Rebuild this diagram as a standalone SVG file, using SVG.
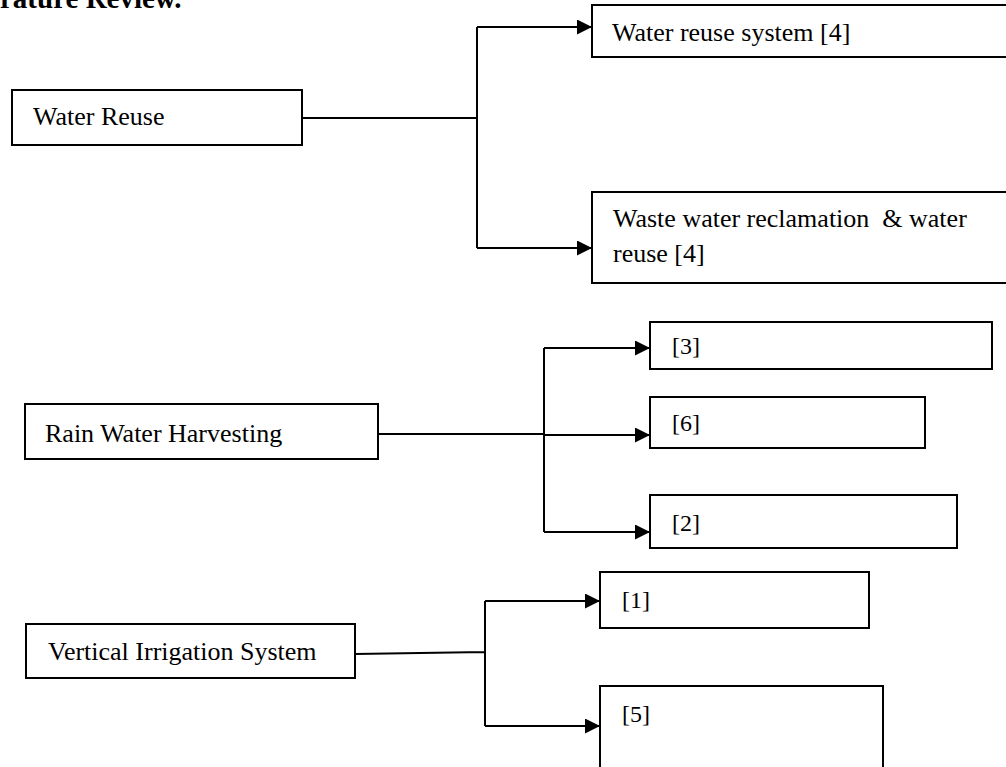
<svg xmlns="http://www.w3.org/2000/svg" width="1006" height="767" viewBox="0 0 1006 767">
<defs>
<marker id="arr" markerWidth="16" markerHeight="16" refX="15" refY="7.5" orient="auto" markerUnits="userSpaceOnUse">
<path d="M0,0 L15,7.5 L0,15 Z" fill="#000"/>
</marker>
<style>
.box{fill:#fff;stroke:#000;stroke-width:2}
.t{font-family:"Liberation Serif","Times New Roman",serif;font-size:26px;fill:#000;white-space:pre}
.s{font-family:"Liberation Serif","Times New Roman",serif;font-size:24px;fill:#000}
.ln{fill:none;stroke:#000;stroke-width:2}
.ar{fill:none;stroke:#000;stroke-width:2.2;marker-end:url(#arr)}
</style>
</defs>
<rect width="1006" height="767" fill="#fff"/>
<text x="0" y="7.5" style="font-family:'Liberation Serif','Times New Roman',serif;font-size:29px;font-weight:bold">rature Review.</text>

<g id="connectors">
<path class="ln" d="M302,118 H477 M477,27 V248"/>
<path class="ar" d="M477,27 H592"/>
<path class="ar" d="M477,248 H592"/>
<path class="ln" d="M378,434 H544 M544,348 V532"/>
<path class="ar" d="M544,348 H650"/>
<path class="ar" d="M544,435 H650"/>
<path class="ar" d="M544,532 H650"/>
<path class="ln" d="M355,654 L485,652 M485,601 V726"/>
<path class="ar" d="M485,601 H600"/>
<path class="ar" d="M485,726 H600"/>
</g>

<g id="water-reuse">
<rect class="box" x="12" y="90" width="290" height="55"/>
<text class="t" x="33" y="125">Water Reuse</text>
</g>
<g id="water-reuse-system">
<rect class="box" x="592" y="5" width="420" height="52"/>
<text class="t" x="612" y="41">Water reuse system [4]</text>
</g>
<g id="waste-water">
<rect class="box" x="592" y="192" width="420" height="91"/>
<text class="t" x="613" y="227">Waste water reclamation  &amp; water</text>
<text class="t" x="613" y="262">reuse [4]</text>
</g>

<g id="rain-water">
<rect class="box" x="25" y="404" width="353" height="55"/>
<text class="t" x="45" y="442">Rain Water Harvesting</text>
</g>
<g id="ref3">
<rect class="box" x="650" y="322" width="342" height="47"/>
<text class="s" x="672" y="354">[3]</text>
</g>
<g id="ref6">
<rect class="box" x="650" y="397" width="275" height="51"/>
<text class="s" x="672" y="431">[6]</text>
</g>
<g id="ref2">
<rect class="box" x="650" y="495" width="307" height="53"/>
<text class="s" x="672" y="531">[2]</text>
</g>

<g id="vertical-irrigation">
<rect class="box" x="26" y="624" width="329" height="54"/>
<text class="t" x="48" y="660">Vertical Irrigation System</text>
</g>
<g id="ref1">
<rect class="box" x="600" y="572" width="269" height="56"/>
<text class="s" x="622" y="608">[1]</text>
</g>
<g id="ref5">
<rect class="box" x="600" y="686" width="283" height="90"/>
<text class="s" x="622" y="722">[5]</text>
</g>
</svg>
